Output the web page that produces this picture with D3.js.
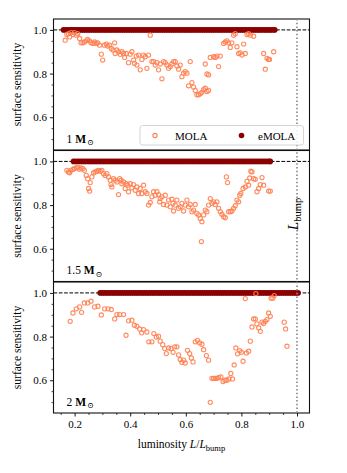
<!DOCTYPE html>
<html><head><meta charset="utf-8">
<script src="https://cdn.jsdelivr.net/npm/d3@7"></script>
<style>html,body{margin:0;padding:0;background:#fff;}svg{display:block;}</style>
</head><body>
<svg id="chart" width="347" height="473"></svg>
<script>
// ---------- data ----------
const panelLabels = ["1", "1.5", "2"];
const xTickValues = [0.2, 0.4, 0.6, 0.8, 1.0];
const yTickValues = [0.6, 0.8, 1.0];
const emolaValue = 1.0;

const mola1 = [[0.166,0.953],[0.172,0.979],[0.178,0.983],[0.182,0.968],[0.187,0.988],[0.194,0.979],[0.199,0.988],[0.206,0.976],[0.211,0.983],[0.218,0.961],[0.223,0.941],[0.230,0.941],[0.235,0.945],[0.242,0.950],[0.247,0.956],[0.254,0.950],[0.259,0.941],[0.266,0.938],[0.272,0.945],[0.278,0.938],[0.283,0.941],[0.290,0.930],[0.296,0.889],[0.301,0.862],[0.307,0.930],[0.314,0.935],[0.319,0.926],[0.326,0.930],[0.332,0.915],[0.338,0.908],[0.344,0.941],[0.346,0.892],[0.352,0.908],[0.358,0.900],[0.364,0.888],[0.370,0.900],[0.376,0.892],[0.380,0.874],[0.386,0.892],[0.394,0.850],[0.400,0.889],[0.406,0.900],[0.412,0.862],[0.415,0.847],[0.422,0.880],[0.424,0.839],[0.430,0.885],[0.436,0.817],[0.442,0.865],[0.448,0.885],[0.454,0.877],[0.460,0.824],[0.466,0.885],[0.472,0.976],[0.478,0.855],[0.484,0.855],[0.490,0.839],[0.496,0.850],[0.502,0.817],[0.508,0.844],[0.514,0.776],[0.520,0.855],[0.526,0.850],[0.532,0.839],[0.538,0.824],[0.544,0.832],[0.550,0.844],[0.556,0.855],[0.562,0.855],[0.568,0.835],[0.574,0.820],[0.580,0.839],[0.586,0.786],[0.592,0.802],[0.598,0.809],[0.604,0.802],[0.610,0.744],[0.616,0.855],[0.622,0.759],[0.628,0.738],[0.634,0.723],[0.640,0.703],[0.646,0.703],[0.652,0.708],[0.658,0.714],[0.664,0.726],[0.670,0.733],[0.676,0.718],[0.682,0.723],[0.670,0.844],[0.676,0.798],[0.682,0.794],[0.688,0.874],[0.700,0.877],[0.706,0.874],[0.712,0.880],[0.718,0.832],[0.724,0.880],[0.736,0.938],[0.742,0.945],[0.748,0.950],[0.754,0.941],[0.760,0.920],[0.766,0.941],[0.772,0.976],[0.778,0.983],[0.784,0.923],[0.790,0.892],[0.796,0.895],[0.802,0.885],[0.808,0.935],[0.814,0.892],[0.820,0.979],[0.826,0.983],[0.832,0.976],[0.844,0.971],[0.880,0.892],[0.886,0.820],[0.892,0.870],[0.898,0.865],[0.901,0.865],[0.916,0.900]];

const mola2 = [[0.172,0.959],[0.178,0.952],[0.182,0.948],[0.187,0.959],[0.194,0.964],[0.199,0.967],[0.206,0.970],[0.211,0.974],[0.218,0.964],[0.223,0.970],[0.230,0.967],[0.235,0.959],[0.242,0.936],[0.247,0.921],[0.250,0.876],[0.254,0.864],[0.256,0.903],[0.262,0.929],[0.268,0.948],[0.274,0.952],[0.280,0.955],[0.286,0.959],[0.292,0.955],[0.298,0.959],[0.304,0.944],[0.310,0.936],[0.316,0.944],[0.322,0.929],[0.328,0.914],[0.331,0.894],[0.334,0.883],[0.340,0.921],[0.346,0.914],[0.352,0.906],[0.358,0.848],[0.362,0.921],[0.367,0.914],[0.370,0.898],[0.376,0.906],[0.382,0.876],[0.386,0.898],[0.391,0.891],[0.394,0.861],[0.400,0.898],[0.406,0.879],[0.412,0.894],[0.418,0.868],[0.424,0.883],[0.430,0.853],[0.436,0.876],[0.442,0.853],[0.448,0.891],[0.454,0.861],[0.460,0.853],[0.466,0.800],[0.472,0.812],[0.478,0.838],[0.484,0.861],[0.490,0.845],[0.496,0.861],[0.502,0.848],[0.506,0.815],[0.508,0.830],[0.514,0.838],[0.520,0.803],[0.526,0.845],[0.532,0.800],[0.538,0.823],[0.544,0.792],[0.550,0.827],[0.554,0.808],[0.556,0.773],[0.562,0.800],[0.568,0.823],[0.574,0.785],[0.580,0.792],[0.586,0.808],[0.592,0.773],[0.598,0.800],[0.604,0.823],[0.610,0.792],[0.616,0.803],[0.622,0.770],[0.628,0.777],[0.634,0.803],[0.640,0.762],[0.646,0.755],[0.652,0.739],[0.656,0.633],[0.658,0.724],[0.664,0.755],[0.670,0.777],[0.676,0.770],[0.682,0.800],[0.688,0.830],[0.694,0.808],[0.700,0.815],[0.706,0.803],[0.712,0.815],[0.718,0.785],[0.724,0.770],[0.730,0.758],[0.736,0.747],[0.742,0.742],[0.746,0.929],[0.750,0.903],[0.754,0.770],[0.760,0.770],[0.766,0.773],[0.772,0.785],[0.778,0.797],[0.784,0.823],[0.790,0.815],[0.794,0.845],[0.798,0.853],[0.806,0.876],[0.814,0.883],[0.820,0.909],[0.826,0.891],[0.830,0.924],[0.834,0.955],[0.838,0.952],[0.844,0.921],[0.850,0.918],[0.856,0.861],[0.862,0.876],[0.868,0.894],[0.874,0.926],[0.880,0.891],[0.898,0.864],[0.904,0.864]];

const mola3 = [[0.184,0.870],[0.194,0.908],[0.206,0.927],[0.218,0.936],[0.225,0.911],[0.235,0.954],[0.247,0.954],[0.259,0.962],[0.272,0.936],[0.284,0.939],[0.296,0.899],[0.308,0.927],[0.320,0.927],[0.332,0.924],[0.344,0.881],[0.352,0.901],[0.362,0.901],[0.376,0.901],[0.385,0.806],[0.394,0.872],[0.406,0.875],[0.415,0.852],[0.424,0.847],[0.434,0.835],[0.441,0.817],[0.448,0.832],[0.460,0.821],[0.467,0.776],[0.478,0.776],[0.485,0.814],[0.494,0.798],[0.502,0.802],[0.508,0.779],[0.517,0.763],[0.524,0.745],[0.530,0.722],[0.538,0.748],[0.547,0.745],[0.554,0.728],[0.560,0.753],[0.568,0.753],[0.574,0.716],[0.580,0.695],[0.586,0.682],[0.592,0.692],[0.598,0.679],[0.606,0.737],[0.614,0.722],[0.620,0.702],[0.626,0.684],[0.634,0.776],[0.642,0.783],[0.650,0.771],[0.658,0.765],[0.664,0.740],[0.674,0.713],[0.682,0.692],[0.688,0.499],[0.694,0.609],[0.700,0.609],[0.706,0.609],[0.712,0.609],[0.718,0.612],[0.726,0.615],[0.734,0.594],[0.741,0.600],[0.748,0.600],[0.755,0.606],[0.762,0.631],[0.768,0.606],[0.774,0.670],[0.780,0.748],[0.786,0.721],[0.794,0.736],[0.800,0.728],[0.806,0.687],[0.814,0.974],[0.818,0.725],[0.826,0.733],[0.832,0.779],[0.838,0.844],[0.844,0.881],[0.850,0.881],[0.852,0.997],[0.856,0.858],[0.862,0.840],[0.868,0.824],[0.874,0.866],[0.880,0.860],[0.886,0.870],[0.892,0.878],[0.898,0.908],[0.904,0.893],[0.907,0.976],[0.913,0.976],[0.918,0.988],[0.954,0.866],[0.959,0.835],[0.964,0.756]];

const emola1X = [0.160,0.168,0.176,0.184,0.192,0.200,0.208,0.216,0.224,0.232,0.240,0.248,0.256,0.264,0.272,0.280,0.288,0.296,0.304,0.312,0.320,0.328,0.336,0.344,0.352,0.360,0.368,0.376,0.384,0.392,0.400,0.408,0.416,0.424,0.432,0.440,0.448,0.456,0.464,0.472,0.480,0.488,0.496,0.504,0.512,0.520,0.528,0.536,0.544,0.552,0.560,0.568,0.576,0.584,0.592,0.600,0.608,0.616,0.624,0.632,0.640,0.648,0.656,0.664,0.672,0.680,0.688,0.696,0.704,0.712,0.720,0.728,0.736,0.744,0.752,0.760,0.768,0.776,0.784,0.792,0.800,0.808,0.816,0.824,0.832,0.840,0.848,0.856,0.864,0.872,0.880,0.888,0.896,0.904,0.912,0.920];
const emola2X = [0.196,0.204,0.212,0.220,0.228,0.236,0.244,0.252,0.260,0.268,0.276,0.284,0.292,0.300,0.308,0.316,0.324,0.332,0.340,0.348,0.356,0.364,0.372,0.380,0.388,0.396,0.404,0.412,0.420,0.428,0.436,0.444,0.452,0.460,0.468,0.476,0.484,0.492,0.500,0.508,0.516,0.524,0.532,0.540,0.548,0.556,0.564,0.572,0.580,0.588,0.596,0.604,0.612,0.620,0.628,0.636,0.644,0.652,0.660,0.668,0.676,0.684,0.692,0.700,0.708,0.716,0.724,0.732,0.740,0.748,0.756,0.764,0.772,0.780,0.788,0.796,0.804,0.812,0.820,0.828,0.836,0.844,0.852,0.860,0.868,0.876,0.884,0.892,0.900,0.904];
const emola3X = [0.292,0.300,0.308,0.316,0.324,0.332,0.340,0.348,0.356,0.364,0.372,0.380,0.388,0.396,0.404,0.412,0.420,0.428,0.436,0.444,0.452,0.460,0.468,0.476,0.484,0.492,0.500,0.508,0.516,0.524,0.532,0.540,0.548,0.556,0.564,0.572,0.580,0.588,0.596,0.604,0.612,0.620,0.628,0.636,0.644,0.652,0.660,0.668,0.676,0.684,0.692,0.700,0.708,0.716,0.724,0.732,0.740,0.748,0.756,0.764,0.772,0.780,0.788,0.796,0.804,0.812,0.820,0.828,0.836,0.844,0.852,0.860,0.868,0.876,0.884,0.892,0.900,0.908,0.916,0.924,0.932,0.940,0.948,0.956,0.964,0.972,0.980,0.988,0.996,1.004];

const molaSets = [mola1, mola2, mola3];
const emolaSets = [emola1X, emola2X, emola3X];

// ---------- layout ----------
const FONT = "'Liberation Serif','DejaVu Serif',serif";
const MOLA_COLOR = "#ff7f50";
const EMOLA_COLOR = "#8b0000";
const left = 53.5, right = 309.5;
const tops = [19, 150.5, 282];
const ph = 131;

const svg = d3.select("#chart");
const x = d3.scaleLinear().domain([0.124, 1.045]).range([left, right]);

const xMinor = d3.range(0.15, 1.001, 0.05).filter(v => !xTickValues.some(t => Math.abs(t - v) < 1e-6));
const yMinor = d3.range(0.5, 1.001, 0.05).filter(v => !yTickValues.some(t => Math.abs(t - v) < 1e-6));

tops.forEach((top, i) => {
  const y = d3.scaleLinear().domain([0.45, 1.05]).range([top + ph, top]);
  const g = svg.append("g");
  const clipId = "clip" + i;
  svg.append("clipPath").attr("id", clipId).append("rect")
    .attr("x", left).attr("y", top).attr("width", right - left).attr("height", ph);
  const plot = g.append("g").attr("clip-path", `url(#${clipId})`);

  // dashed line at 1.0
  plot.append("line").attr("x1", left).attr("x2", right)
    .attr("y1", y(1.0)).attr("y2", y(1.0))
    .attr("stroke", "#000").attr("stroke-width", 1).attr("stroke-dasharray", "3.7,1.6");

  // eMOLA
  plot.selectAll("circle.emola").data(emolaSets[i]).enter().append("circle")
    .attr("class", "emola")
    .attr("cx", d => x(d)).attr("cy", y(emolaValue)).attr("r", 2.8)
    .attr("fill", EMOLA_COLOR);

  // MOLA
  plot.selectAll("circle.mola").data(molaSets[i]).enter().append("circle")
    .attr("class", "mola")
    .attr("cx", d => x(d[0])).attr("cy", d => y(d[1])).attr("r", 2.1)
    .attr("fill", "none").attr("stroke", MOLA_COLOR).attr("stroke-width", 1.1)
    .attr("stroke-opacity", 0.9);

  // y axis
  const yAxis = d3.axisLeft(y).tickValues(yTickValues).tickFormat(d3.format(".1f"))
    .tickSize(3.5).tickPadding(3);
  const ya = g.append("g").attr("transform", `translate(${left},0)`).call(yAxis);
  ya.select(".domain").remove();
  ya.selectAll("text").attr("font-family", FONT).attr("font-size", 11).attr("fill", "#000");
  ya.selectAll("line").attr("stroke", "#000").attr("stroke-width", 0.9);
  const yAxisMinor = d3.axisLeft(y).tickValues(yMinor).tickFormat("").tickSize(2);
  const ym = g.append("g").attr("transform", `translate(${left},0)`).call(yAxisMinor);
  ym.select(".domain").remove();
  ym.selectAll("line").attr("stroke", "#000").attr("stroke-width", 0.7);

  // y label
  g.append("text")
    .attr("transform", `translate(21,${top + ph / 2}) rotate(-90)`)
    .attr("text-anchor", "middle")
    .attr("font-family", FONT).attr("font-size", 11.5)
    .text("surface sensitivity");

  // mass label
  const lab = g.append("text").attr("x", 66.5).attr("y", top + ph - 7.5)
    .attr("font-family", FONT).attr("font-size", 11.5);
  lab.append("tspan").text(panelLabels[i] + " ");
  lab.append("tspan").attr("font-weight", "bold").text("M");
  lab.append("tspan").attr("font-size", 8).attr("dy", 2.5).attr("dx", 1).text("⊙");

  // frame
  g.append("rect").attr("x", left).attr("y", top).attr("width", right - left).attr("height", ph)
    .attr("fill", "none").attr("stroke", "#111").attr("stroke-width", 1.1);
});

// vertical dotted line at L = L_bump
svg.append("line").attr("x1", x(1.0)).attr("x2", x(1.0))
  .attr("y1", tops[0]).attr("y2", tops[2] + ph)
  .attr("stroke", "#8c8c8c").attr("stroke-width", 1.7).attr("stroke-dasharray", "1.5,2.2");

// L_bump text
const lb = svg.append("text")
  .attr("transform", `translate(${x(1.0) + 1},214) rotate(-90)`)
  .attr("text-anchor", "middle").attr("font-family", FONT).attr("font-size", 15);
lb.append("tspan").attr("font-style", "italic").text("L");
lb.append("tspan").attr("font-size", 10.5).attr("dy", 3).text("bump");

// x axis (bottom panel)
const bottom = tops[2] + ph;
const xa = svg.append("g").attr("transform", `translate(0,${bottom})`)
  .call(d3.axisBottom(x).tickValues(xTickValues).tickFormat(d3.format(".1f")).tickSize(3.5).tickPadding(3.5));
xa.select(".domain").remove();
xa.selectAll("text").attr("font-family", FONT).attr("font-size", 11).attr("fill", "#000");
xa.selectAll("line").attr("stroke", "#000").attr("stroke-width", 0.9);
const xm = svg.append("g").attr("transform", `translate(0,${bottom})`)
  .call(d3.axisBottom(x).tickValues(xMinor).tickFormat("").tickSize(2));
xm.select(".domain").remove();
xm.selectAll("line").attr("stroke", "#000").attr("stroke-width", 0.7);

// x label
const xl = svg.append("text").attr("x", (left + right) / 2).attr("y", 448)
  .attr("text-anchor", "middle").attr("font-family", FONT).attr("font-size", 11.5);
xl.append("tspan").text("luminosity ");
xl.append("tspan").attr("font-style", "italic").text("L");
xl.append("tspan").text("/");
xl.append("tspan").attr("font-style", "italic").text("L");
xl.append("tspan").attr("font-size", 8.5).attr("dy", 2.5).text("bump");

// legend
const lg = svg.append("g");
lg.append("rect").attr("x", 140).attr("y", 125.5).attr("width", 163.5).attr("height", 19.5)
  .attr("rx", 2.5).attr("fill", "#fff").attr("fill-opacity", 0.85)
  .attr("stroke", "#d0d0d0").attr("stroke-width", 0.9);
lg.append("circle").attr("cx", 155).attr("cy", 135.5).attr("r", 2.1)
  .attr("fill", "none").attr("stroke", MOLA_COLOR).attr("stroke-width", 1.1);
lg.append("text").attr("x", 175).attr("y", 139.5).attr("font-family", FONT).attr("font-size", 11).text("MOLA");
lg.append("circle").attr("cx", 241.5).attr("cy", 135.5).attr("r", 2.8).attr("fill", EMOLA_COLOR);
lg.append("text").attr("x", 258).attr("y", 139.5).attr("font-family", FONT).attr("font-size", 11).text("eMOLA");
</script>
</body></html>
